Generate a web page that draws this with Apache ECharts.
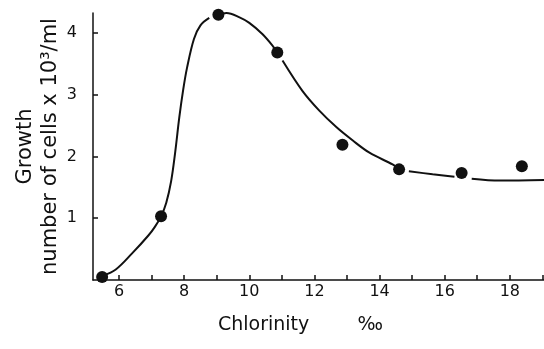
<!DOCTYPE html>
<html>
<head>
<meta charset="utf-8">
<script src="https://cdn.jsdelivr.net/npm/echarts@6/dist/echarts.min.js"></script>
<style>
  html, body { margin: 0; padding: 0; background: #fff; }
  #chart { width: 544px; height: 349px; }
</style>
</head>
<body>
<div id="chart"></div>
<script>
// measured points (chlorinity ‰, growth x10^3 cells/ml)
const chlorinity = [5.48, 7.29, 9.05, 10.86, 12.86, 14.6, 16.52, 18.37];
const growth = [0.05, 1.03, 4.29, 3.68, 2.19, 1.79, 1.73, 1.84];

// hand-drawn fitted curve; nulls are the pen gaps
const curveX = [5.5, 5.9, 6.4, 6.9, 7.1, 7.29, 7.45, 7.6, 7.72, 7.85, 7.97, 8.09, 8.3, 8.5, 8.77, null,
  9.05, 9.3, 9.7, 10.0, 10.4, 10.7, 10.86, null,
  11.02, 11.63, 12.15, 12.68, 13.17, 13.69, 14.4, 14.6, null,
  14.9, 15.63, 16.3, null,
  16.83, 17.7, 19.05];
const curveY = [0.07, 0.17, 0.43, 0.72, 0.86, 1.03, 1.25, 1.6, 2.05, 2.63, 3.08, 3.44, 3.9, 4.12, 4.24, null,
  4.29, 4.32, 4.25, 4.16, 3.98, 3.8, 3.68, null,
  3.55, 3.06, 2.74, 2.47, 2.26, 2.06, 1.87, 1.8, null,
  1.76, 1.71, 1.67, null,
  1.64, 1.61, 1.62];

const xTicks = [6, 7, 8, 9, 10, 11, 12, 13, 14, 15, 16, 17, 18, 19];
const xLabels = [6, 8, 10, 12, 14, 16, 18];
const yTicks = [1, 2, 3, 4];

const curveData = curveX.map((x, i) => (x === null ? [null, null] : [x, curveY[i]]));
const pointData = chlorinity.map((x, i) => [x, growth[i]]);

const ink = '#111';
const font = 'DejaVu Sans';

const chart = echarts.init(document.getElementById('chart'));
chart.setOption({
  backgroundColor: '#fff',
  animation: false,
  grid: { left: 93, right: 0, top: 13, bottom: 69, outerBoundsMode: 'none', containLabel: false },
  xAxis: {
    type: 'value',
    min: 5.2,
    max: 19.05,
    name: 'Chlorinity        ‰',
    nameLocation: 'middle',
    nameGap: 36,
    nameMoveOverlap: false,
    nameTextStyle: { color: ink, fontFamily: font, fontSize: 19, padding: [0, 36, 0, 0] },
    axisLine: { lineStyle: { color: ink, width: 1.5 } },
    axisTick: { inside: true, length: 5, customValues: xTicks, lineStyle: { color: ink, width: 1.5 } },
    axisLabel: { customValues: xLabels, color: ink, fontFamily: font, fontSize: 16, margin: 4 },
    splitLine: { show: false }
  },
  yAxis: {
    type: 'value',
    min: 0,
    max: 4.32,
    name: 'Growth\nnumber of cells x 10³/ml',
    nameLocation: 'middle',
    nameRotate: 90,
    nameGap: 30,
    nameMoveOverlap: false,
    nameTextStyle: { color: ink, fontFamily: font, fontSize: 21, lineHeight: 25, align: 'center' },
    axisLine: { show: true, lineStyle: { color: ink, width: 1.5 } },
    axisTick: { show: true, inside: true, length: 5, customValues: yTicks, lineStyle: { color: ink, width: 1.5 } },
    axisLabel: { customValues: yTicks, color: ink, fontFamily: font, fontSize: 16, margin: 16 },
    splitLine: { show: false }
  },
  series: [
    {
      name: 'fit',
      type: 'line',
      data: curveData,
      smooth: 0.35,
      connectNulls: false,
      showSymbol: false,
      lineStyle: { color: ink, width: 2 },
      z: 2
    },
    {
      name: 'measured',
      type: 'scatter',
      data: pointData,
      symbol: 'circle',
      symbolSize: 12,
      itemStyle: { color: ink, opacity: 1 },
      z: 3
    }
  ]
});
</script>
</body>
</html>
